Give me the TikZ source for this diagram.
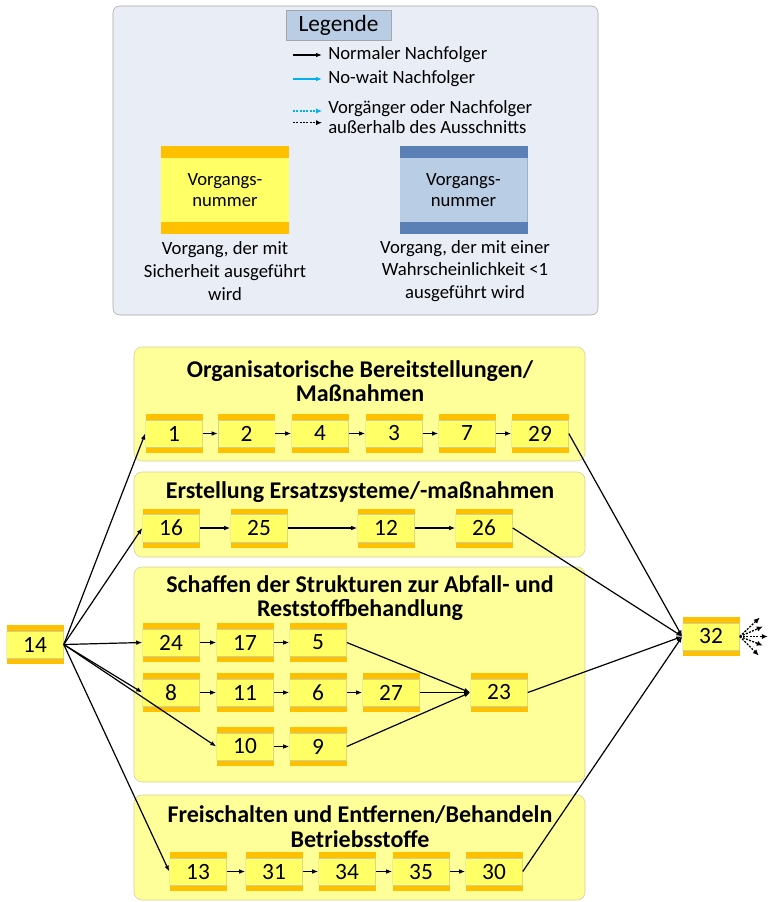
\documentclass[tikz,border=0pt]{standalone}
\usepackage{fontspec}
\setmainfont{Carlito}
\usetikzlibrary{arrows.meta}

\definecolor{band}{HTML}{FFC000}
\definecolor{core}{HTML}{FFFF66}
\definecolor{blueband}{HTML}{5B80B5}
\definecolor{bluecore}{HTML}{B9CDE5}
\definecolor{groupfill}{HTML}{FFFF99}
\definecolor{groupline}{HTML}{CFCF9A}
\definecolor{legfill}{HTML}{E9EDF5}
\definecolor{legline}{HTML}{A6A6A6}
\definecolor{nowait}{HTML}{00B0F0}

\tikzset{
  task/.style={fill=band, minimum width=42.75pt, minimum height=29.25pt, inner sep=0pt,
    font=\fontsize{17.5}{20}\selectfont,
    path picture={\fill[core, draw=groupline, line width=0.3pt]
      ([yshift=-4.3pt]path picture bounding box.north west) rectangle
      ([yshift=4.3pt]path picture bounding box.south east);}},
  legtask/.style={fill=band, minimum width=96pt, minimum height=66pt, inner sep=0pt,
    align=center, font=\fontsize{14}{16}\selectfont,
    path picture={\fill[core]
      ([yshift=-9pt]path picture bounding box.north west) rectangle
      ([yshift=9pt]path picture bounding box.south east);}},
  legtaskblue/.style={legtask, fill=blueband,
    path picture={\fill[bluecore]
      ([yshift=-9pt]path picture bounding box.north west) rectangle
      ([yshift=9pt]path picture bounding box.south east);}},
  legtext/.style={inner sep=0pt, font=\fontsize{14}{15}\selectfont, align=left},
  group/.style={draw=groupline, fill=groupfill, rounded corners=6pt},
  grouptitle/.style={font=\bfseries\fontsize{18}{18.5}\selectfont, align=center},
  next/.style={-{Latex[length=4.5pt,width=3.5pt]}, line width=0.9pt},
  outside/.style={-{Latex[length=4.5pt,width=4pt]}, line width=1pt, dash pattern=on 1.5pt off 1pt},
}

\begin{document}
\begin{tikzpicture}[x=0.75pt, y=-0.75pt]
  \useasboundingbox (0,0) rectangle (768,902);

  % legend
  \draw[legline, fill=legfill, rounded corners=5pt] (113,6) rectangle (598,315);
  \node[draw=legline, fill=bluecore, minimum width=78.75pt, minimum height=22.5pt,
    font=\fontsize{17.5}{20}\selectfont] (legende) at (338.5,25) {Legende};

  \node[legtext, anchor=west] (lnormal) at (328,55) {Normaler Nachfolger};
  \node[legtext, anchor=west] (lnowait) at (328,79) {No-wait Nachfolger};
  \node[legtext, anchor=west] (lout) at (328,117) {Vorgänger oder Nachfolger\\außerhalb des Ausschnitts};
  \draw[next] ([xshift=-26.25pt]lnormal.west) -- ([xshift=-4.5pt]lnormal.west);
  \draw[next, nowait] ([xshift=-26.25pt]lnowait.west) -- ([xshift=-4.5pt]lnowait.west);
  \draw[outside, nowait] ([xshift=-26.25pt, yshift=4.5pt]lout.west) -- ([xshift=-4.5pt, yshift=4.5pt]lout.west);
  \draw[outside] ([xshift=-26.25pt, yshift=-4.3pt]lout.west) -- ([xshift=-4.5pt, yshift=-4.3pt]lout.west);

  \node[legtask] (lsure) at (225,190) {Vorgangs-\\nummer};
  \node[legtaskblue] (lmaybe) at (463.5,190) {Vorgangs-\\nummer};
  \node[legtext, align=center, font=\fontsize{14}{17}\selectfont] (dsure) at (225,271)
    {Vorgang, der mit\\Sicherheit ausgeführt\\wird};
  \node[legtext, align=center, font=\fontsize{14}{17}\selectfont] (dmaybe) at (465,271)
    {Vorgang, der mit einer\\Wahrscheinlichkeit <1\\ausgeführt wird};

  % groups
  \draw[group] (134,347) rectangle (585,461);
  \node[grouptitle] (t1) at (360,381) {Organisatorische Bereitstellungen/\\Maßnahmen};
  \draw[group] (134,472) rectangle (585,557);
  \node[grouptitle] (t2) at (360,492) {Erstellung Ersatzsysteme/-maßnahmen};
  \draw[group] (134,567) rectangle (585,782);
  \node[grouptitle] (t3) at (360,598) {Schaffen der Strukturen zur Abfall- und\\Reststoffbehandlung};
  \draw[group] (134,795) rectangle (585,900);
  \node[grouptitle] (t4) at (360,826.5) {Freischalten und Entfernen/Behandeln\\Betriebsstoffe};

  % tasks
  \node[task] (14) at (35,644.5) {14};
  \node[task] (32) at (711,636.5) {32};

  \node[task] (1) at (174,433.5) {1};
  \node[task] (2) at (246.5,433.5) {2};
  \node[task] (4) at (320,433.5) {4};
  \node[task] (3) at (394,433.5) {3};
  \node[task] (7) at (467,433.5) {7};
  \node[task] (29) at (540,433.5) {29};

  \node[task] (16) at (171,528) {16};
  \node[task] (25) at (259,528) {25};
  \node[task] (12) at (386,528) {12};
  \node[task] (26) at (484,528) {26};

  \node[task] (24) at (171,642.5) {24};
  \node[task] (17) at (245,642.5) {17};
  \node[task] (5) at (318,642.5) {5};
  \node[task] (8) at (171,692.5) {8};
  \node[task] (11) at (245,692.5) {11};
  \node[task] (6) at (318,692.5) {6};
  \node[task] (27) at (391,692.5) {27};
  \node[task] (23) at (499,692.5) {23};
  \node[task] (10) at (245,746.5) {10};
  \node[task] (9) at (318,746.5) {9};

  \node[task] (13) at (198,871.5) {13};
  \node[task] (31) at (274,871.5) {31};
  \node[task] (34) at (347,871.5) {34};
  \node[task] (35) at (421,871.5) {35};
  \node[task] (30) at (494,871.5) {30};

  % successors
  \draw[next] (1) -- (2);
  \draw[next] (2) -- (4);
  \draw[next] (4) -- (3);
  \draw[next] (3) -- (7);
  \draw[next] (7) -- (29);

  \draw[next] (16) -- (25);
  \draw[next] (25) -- (12);
  \draw[next] (12) -- (26);

  \draw[next] (24) -- (17);
  \draw[next] (17) -- (5);
  \draw[next] (8) -- (11);
  \draw[next] (11) -- (6);
  \draw[next] (6) -- (27);
  \draw[next] (10) -- (9);
  \draw[next] (5.east) -- (23.west);
  \draw[next] (27.east) -- (23.west);
  \draw[next] (9.east) -- (23.west);

  \draw[next] (13) -- (31);
  \draw[next] (31) -- (34);
  \draw[next] (34) -- (35);
  \draw[next] (35) -- (30);

  \draw[next] (14.east) -- (1.west);
  \draw[next] (14.east) -- (16.west);
  \draw[next] (14.east) -- (24.west);
  \draw[next] (14.east) -- (8.west);
  \draw[next] (14.east) -- (10.west);
  \draw[next] (14.east) -- (13.west);

  \draw[next] (29.east) -- (32.west);
  \draw[next] (26.east) -- (32.west);
  \draw[next] (23.east) -- (32.west);
  \draw[next] (30.east) -- (32.west);

  \draw[outside] (32.east) -- ++(20,-19);
  \draw[outside] (32.east) -- ++(23,-10);
  \draw[outside] (32.east) -- ++(28,0);
  \draw[outside] (32.east) -- ++(23,9);
  \draw[outside] (32.east) -- ++(19,19);
\end{tikzpicture}
\end{document}
